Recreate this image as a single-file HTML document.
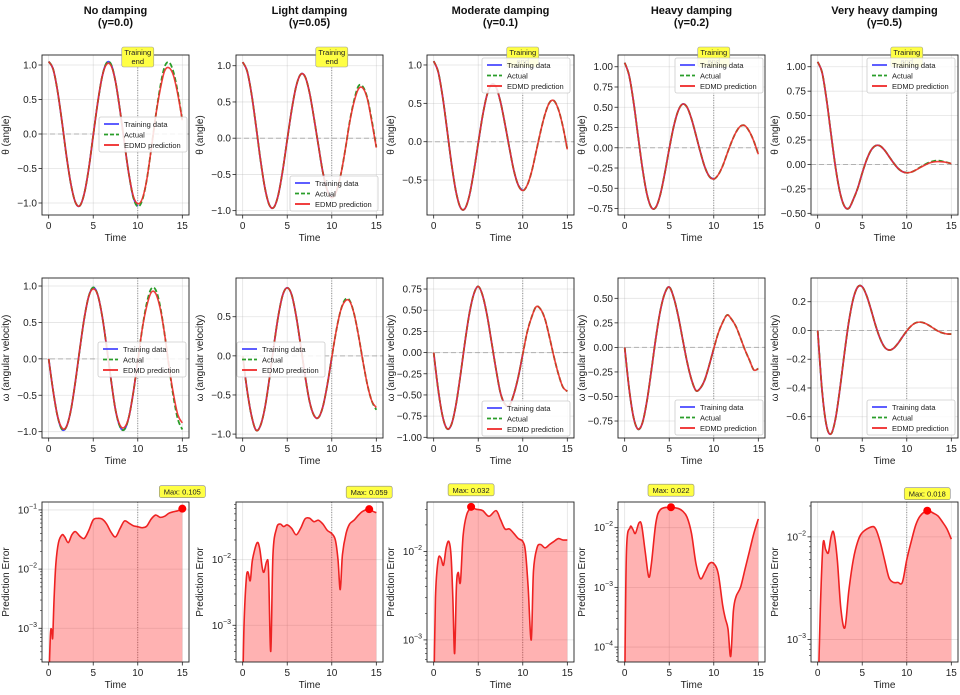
<!DOCTYPE html>
<html><head><meta charset="utf-8">
<style>
html,body{margin:0;padding:0;background:#fff;}
svg{display:block;font-family:"Liberation Sans","DejaVu Sans",sans-serif;}
</style></head>
<body>
<svg id="fig" width="960" height="695" viewBox="0 0 960 695" xmlns="http://www.w3.org/2000/svg"></svg>
<script>
const timeSteps=[0,0.5,1,1.5,2,2.5,3,3.5,4,4.5,5,5.5,6,6.5,7,7.5,8,8.5,9,9.5,10,10.5,11,11.5,12,12.5,13,13.5,14,14.5,15];
const dampingTitles=["No damping","Light damping","Moderate damping","Heavy damping","Very heavy damping"];
const gammaLabels=["(γ=0.0)","(γ=0.05)","(γ=0.1)","(γ=0.2)","(γ=0.5)"];
const theta0Actual=[1.05,.94,.62,.17,-.32,-.73,-.99,-1.04,-.86,-.50,-.02,.45,.83,1.03,1.01,.76,.35,-.13,-.58,-.92,-1.05,-.96,-.67,-.23,.25,.67,.97,1.04,.90,.60,.2];
const theta0Pred=[1.05,.94,.62,.17,-.32,-.73,-.99,-1.04,-.86,-.50,-.02,.45,.83,1.01,.99,.76,.35,-.13,-.58,-.90,-1.01,-.94,-.67,-.23,.25,.63,.91,.96,.85,.57,.2];
const omega0Actual=[0,-.44,-.79,-.97,-.93,-.70,-.31,.14,.56,.86,.98,.88,.59,.17,-.29,-.70,-.93,-.97,-.80,-.46,-.03,.41,.76,.96,.95,.73,.35,-.10,-.52,-.83,-.97];
const omega0Pred=[0,-.44,-.79,-.95,-.93,-.70,-.31,.14,.56,.86,.96,.88,.59,.17,-.29,-.70,-.91,-.94,-.80,-.46,-.03,.41,.72,.91,.90,.70,.35,-.10,-.48,-.77,-.88];
const theta1Actual=[1.05,.925,.605,.165,-.30,-.69,-.924,-.954,-.78,-.44,-.02,.39,.715,.88,.85,.63,.28,-.10,-.47,-.72,-.82,-.74,-.51,-.17,.22,.52,.72,.71,.55,.24,-.12];
const theta1Pred=[1.05,.925,.605,.165,-.30,-.69,-.924,-.954,-.78,-.44,-.02,.39,.715,.88,.85,.63,.28,-.10,-.47,-.72,-.82,-.74,-.51,-.17,.21,.50,.68,.69,.54,.22,-.13];
const omega1Actual=[0,-.44,-.77,-.95,-.89,-.66,-.29,.13,.51,.78,.87,.78,.51,.14,-.25,-.58,-.76,-.79,-.65,-.37,-.02,.32,.58,.72,.71,.54,.26,-.07,-.37,-.58,-.69];
const omega1Pred=[0,-.44,-.77,-.95,-.89,-.66,-.29,.13,.51,.78,.87,.78,.51,.14,-.25,-.58,-.76,-.79,-.65,-.37,-.02,.32,.58,.70,.70,.54,.26,-.07,-.37,-.58,-.66];
const theta2Actual=[1.05,.913,.59,.159,-.285,-.648,-.857,-.873,-.705,-.394,-.018,.343,.615,.746,.711,.519,.232,-.082,-.375,-.568,-.637,-.566,-.388,-.13,.133,.36,.51,.534,.42,.2,-.1];
const omega2Actual=[0,-.432,-.751,-.898,-.846,-.617,-.27,.115,.457,.689,.78,.671,.436,.12,-.2,-.478,-.609,-.625,-.49,-.285,-.018,.244,.42,.541,.512,.393,.181,-.05,-.253,-.406,-.458];
const theta3Actual=[1.05,.891,.562,.147,-.258,-.573,-.738,-.734,-.577,-.315,-.014,.261,.455,.539,.501,.357,.156,-.054,-.239,-.354,-.386,-.334,-.224,-.073,.073,.193,.267,.272,.2,.08,-.08];
const omega3Actual=[0,-.421,-.715,-.833,-.766,-.545,-.232,.097,.374,.55,.615,.509,.323,.087,-.146,-.328,-.44,-.414,-.327,-.178,-.011,.144,.255,.33,.286,.211,.096,-.025,-.128,-.23,-.216];
const theta4Actual=[1.05,.939,.661,.31,-.027,-.285,-.427,-.448,-.357,-.241,-.088,.049,.147,.192,.19,.147,.083,.018,-.038,-.073,-.085,-.078,-.057,-.029,-.002,.021,.034,.04,.032,.022,.009];
const theta4Pred=[1.05,.939,.661,.31,-.027,-.285,-.427,-.448,-.357,-.241,-.088,.049,.147,.192,.19,.147,.083,.018,-.038,-.073,-.085,-.078,-.057,-.032,-.008,.014,.026,.03,.027,.02,.009];
const omega4Actual=[0,-.423,-.665,-.719,-.614,-.405,-.16,.062,.222,.303,.304,.241,.142,.035,-.055,-.115,-.136,-.125,-.091,-.046,-.003,.032,.053,.058,.051,.035,.015,-.004,-.017,-.024,-.025];
const err0T=[0,0.2,0.35,0.45,0.6,0.8,1.1,1.5,1.8,2.2,2.6,3,3.5,4,4.5,5,5.5,6,6.5,7,7.5,8,8.5,9,9.5,10,10.5,11,11.5,12,12.5,13,13.5,14,14.5,15];
const err0V=[0.0001,0.0008,0.0009,0.0007,0.003,0.012,0.028,0.038,0.035,0.028,0.038,0.043,0.036,0.033,0.045,0.068,0.072,0.07,0.058,0.042,0.035,0.048,0.065,0.06,0.054,0.052,0.05,0.053,0.07,0.082,0.075,0.078,0.088,0.093,0.097,0.105];
const err1T=[0,0.15,0.4,0.6,0.85,1.1,1.6,1.9,2.2,2.4,2.7,2.9,3.15,3.4,3.8,4.2,4.6,5,5.5,6,6.5,7,7.5,8,8.5,9,9.5,10,10.4,10.7,10.95,11.2,11.6,12,12.5,13,13.5,14.2,14.6,15];
const err1V=[0.0001,0.001,0.005,0.0065,0.0048,0.01,0.018,0.015,0.0075,0.0065,0.0095,0.007,0.0004,0.012,0.03,0.035,0.032,0.034,0.03,0.024,0.03,0.042,0.043,0.038,0.04,0.035,0.028,0.025,0.02,0.01,0.0035,0.012,0.025,0.035,0.04,0.048,0.055,0.059,0.055,0.052];
const err2T=[0,0.2,0.5,0.8,1.1,1.4,1.7,1.95,2.15,2.35,2.55,2.75,3,3.3,3.7,4.2,4.8,5.5,6.2,7,7.5,8,8.5,9,9.5,10,10.3,10.6,10.95,11.2,11.6,12,12.5,13,13.5,14,14.5,15];
const err2V=[0.0001,0.003,0.008,0.0085,0.007,0.011,0.013,0.009,0.003,0.0007,0.004,0.0058,0.0045,0.015,0.026,0.031,0.03,0.029,0.025,0.029,0.023,0.018,0.018,0.016,0.014,0.013,0.01,0.004,0.001,0.006,0.011,0.012,0.011,0.012,0.013,0.014,0.0135,0.0135];
const err3T=[0,0.2,0.6,0.9,1.2,1.6,1.9,2.3,2.7,3,3.5,4,5,6,6.5,7,7.5,8,8.5,9,9.5,10,10.5,11,11.3,11.6,11.9,12.2,12.5,13,13.5,14,14.5,15];
const err3V=[0.00001,0.004,0.01,0.0095,0.008,0.012,0.011,0.004,0.0015,0.0025,0.012,0.02,0.022,0.021,0.019,0.015,0.008,0.0025,0.0014,0.0018,0.0025,0.0025,0.0017,0.0005,0.0003,0.0002,0.00007,0.0004,0.0007,0.001,0.002,0.004,0.008,0.014];
const err4T=[0,0.3,0.6,0.9,1.2,1.5,1.8,2.2,2.6,3.05,3.5,4,4.5,5,6,6.5,7,7.5,8,8.5,9,9.5,10,10.5,11,11.5,12.3,13,13.5,14,14.5,15];
const err4V=[0.0001,0.002,0.0085,0.0075,0.007,0.01,0.011,0.006,0.002,0.0013,0.003,0.006,0.009,0.011,0.0125,0.012,0.009,0.006,0.004,0.0036,0.0036,0.0036,0.006,0.009,0.013,0.016,0.018,0.017,0.016,0.014,0.012,0.0095];
const maxErrT=[15,14.2,4.2,5.2,12.3];
const maxErrV=[0.105,0.059,0.032,0.022,0.018];
const maxErrLabels=["Max: 0.105","Max: 0.059","Max: 0.032","Max: 0.022","Max: 0.018"];
const xTicks=[0,5,10,15];

const NS="http://www.w3.org/2000/svg";
const svg=document.getElementById('fig');
function el(tag,attrs,parent,text){const e=document.createElementNS(NS,tag);for(const k in attrs)e.setAttribute(k,attrs[k]);if(text!==undefined)e.textContent=text;(parent||svg).appendChild(e);return e;}
function smooth(pts){if(!pts.length)return"";let d="M"+pts[0][0].toFixed(2)+","+pts[0][1].toFixed(2);for(let i=0;i<pts.length-1;i++){const p0=pts[i-1]||pts[i],p1=pts[i],p2=pts[i+1],p3=pts[i+2]||p2;const c1=[p1[0]+(p2[0]-p0[0])/6,p1[1]+(p2[1]-p0[1])/6],c2=[p2[0]-(p3[0]-p1[0])/6,p2[1]-(p3[1]-p1[1])/6];d+="C"+c1[0].toFixed(2)+","+c1[1].toFixed(2)+" "+c2[0].toFixed(2)+","+c2[1].toFixed(2)+" "+p2[0].toFixed(2)+","+p2[1].toFixed(2);}return d;}
const colLeft=[42,236,427,618,811];const W=147;
const rowTop=[55,278,502];const H=160;
const thetaData=[[theta0Actual,theta0Pred],[theta1Actual,theta1Pred],[theta2Actual,theta2Actual],[theta3Actual,theta3Actual],[theta4Actual,theta4Pred]];
const omegaData=[[omega0Actual,omega0Pred],[omega1Actual,omega1Pred],[omega2Actual,omega2Actual],[omega3Actual,omega3Actual],[omega4Actual,omega4Actual]];
const errData=[[err0T,err0V],[err1T,err1V],[err2T,err2V],[err3T,err3V],[err4T,err4V]];
const yRange1=[[-1.174,1.145],[-1.06,1.148],[-0.955,1.13],[-0.83,1.145],[-0.517,1.12]];
const yRange2=[[-1.087,1.11],[-1.05,0.995],[-1.008,0.88],[-0.923,0.707],[-0.748,0.365]];
const yRange3=[[-3.57,-0.866],[-3.56,-1.12],[-3.25,-1.44],[-4.25,-1.57],[-3.22,-1.66]];
const yTicks1=[[-1,-.5,0,.5,1],[-1,-.5,0,.5,1],[-.5,0,.5,1],[-.75,-.5,-.25,0,.25,.5,.75,1],[-.5,-.25,0,.25,.5,.75,1]];
const yTicks2=[[-1,-.5,0,.5,1],[-1,-.5,0,.5],[-1,-.75,-.5,-.25,0,.25,.5,.75],[-.75,-.5,-.25,0,.25,.5],[-.6,-.4,-.2,0,.2]];
const yTicks3=[[-3,-2,-1],[-3,-2],[-3,-2],[-4,-3,-2],[-3,-2]];
const decimals1=[1,1,1,2,2],decimals2=[1,1,2,2,1];
const legendPos1=[[99,117],[290,176],[482,58],[675,58],[867,58]];
const legendPos2=[[98,342],[237,342],[482,401],[675,400],[867,400]];
function fmt(v,d){return (v<0?"−":"")+Math.abs(v).toFixed(d);}

function makeAxes(c,r,ymin,ymax,isLog){
  const L=colLeft[c],T=rowTop[r];
  const g=el('g',{});
  
  
  const xs=t=>L+(t+0.75)/16.5*W;
  const ys=v=>T+H-(v-ymin)/(ymax-ymin)*H;
  el('defs',{},g);
  const cp=el('clipPath',{id:'cp'+r+c},g);el('rect',{x:L,y:T,width:W,height:H},cp);
  // grid
  xTicks.forEach(t=>el('line',{x1:xs(t),x2:xs(t),y1:T,y2:T+H,stroke:'#b0b0b0','stroke-opacity':0.35,'stroke-width':0.8},g));
  return {g,xs,ys,L,T};
}
function drawFrameAndTicks(A,c,r,ticks,labels,isLog,ymin,ymax){
  const {g,xs,ys,L,T}=A;
  el('rect',{x:L,y:T,width:W,height:H,fill:'none',stroke:'#222','stroke-width':0.9},g);
  xTicks.forEach(t=>{el('line',{x1:xs(t),x2:xs(t),y1:T+H,y2:T+H+3.5,stroke:'#222','stroke-width':0.8},g);
    const tx=el('text',{x:xs(t),y:T+H+14,'font-size':10,'text-anchor':'middle',fill:'#222'},g,String(t));
    });
  ticks.forEach((v,i)=>{const y=ys(v);el('line',{x1:L-3.5,x2:L,y1:y,y2:y,stroke:'#222','stroke-width':0.8},g);
    if(isLog){const tx=el('text',{x:L-5,y:y+3.5,'font-size':10,'text-anchor':'end',fill:'#222'},g);
      el('tspan',{},tx,'10');el('tspan',{dy:-5,'font-size':7},tx,'−'+Math.abs(v));
      }
    else{const tx=el('text',{x:L-5,y:y+3.5,'font-size':10,'text-anchor':'end',fill:'#222'},g,labels[i]);
      }});
  if(isLog){for(let d=Math.floor(ymin);d<ymax;d++){for(let m=2;m<10;m++){const lv=d+Math.log10(m);if(lv>ymin&&lv<ymax){const y=ys(lv);el('line',{x1:L-2,x2:L,y1:y,y2:y,stroke:'#222','stroke-width':0.6},g);}}}}
  const xl=el('text',{x:L+W/2,y:T+H+26,'font-size':10,'text-anchor':'middle',fill:'#222'},g,'Time');
  
  const yt=['θ (angle)','ω (angular velocity)','Prediction Error'][r];
  const yl=el('text',{x:0,y:0,'font-size':10,'text-anchor':'middle',fill:'#222',transform:`translate(${L-33},${T+H/2}) rotate(-90)`},g,yt);
  
}
function legend(g,x,y){
  const lg=el('g',{},g);
  
  el('rect',{x:x,y:y,width:88,height:35,rx:2,fill:'#fff','fill-opacity':0.85,stroke:'#ccc','stroke-width':0.8},lg);
  const items=[['Training data','#4c4cff','none'],['Actual','#2a9d2a','4,2'],['EDMD prediction','#ee2a2a','none']];
  items.forEach((it,i)=>{const yy=y+7+i*10.5;
    const ln=el('line',{x1:x+5,x2:x+20,y1:yy,y2:yy,stroke:it[1],'stroke-width':1.8,'stroke-dasharray':it[2]},lg);
    
    const t=el('text',{x:x+25,y:yy+3,'font-size':7.5,fill:'#222'},lg,it[0]);
    });
}
function timeSeries(r,c,data,range,ticks,dec,lpos){
  const [ymin,ymax]=range;
  const A=makeAxes(c,r,ymin,ymax,false);const {g,xs,ys,L,T}=A;
  ticks.forEach(v=>el('line',{x1:L,x2:L+W,y1:ys(v),y2:ys(v),stroke:'#b0b0b0','stroke-opacity':0.35,'stroke-width':0.8},g));
  el('line',{x1:L,x2:L+W,y1:ys(0),y2:ys(0),stroke:'#999','stroke-width':1,'stroke-dasharray':'5,3','stroke-opacity':0.7},g);
  el('line',{x1:xs(10),x2:xs(10),y1:T,y2:T+H,stroke:'#777','stroke-width':0.8,'stroke-dasharray':'1,1.5'},g);
  const [act,pred]=data;
  const trainPts=[],actPts=[],predPts=[];
  timeSteps.forEach((t,i)=>{if(t<=10)trainPts.push([xs(t),ys(act[i])]);actPts.push([xs(t),ys(act[i])]);predPts.push([xs(t),ys(pred[i])]);});
  const pg=el('g',{'clip-path':`url(#cp${r}${c})`},g);
  const p1=el('path',{d:smooth(trainPts),fill:'none',stroke:'#4c4cff','stroke-width':1.8},pg);
  
  const p2=el('path',{d:smooth(actPts),fill:'none',stroke:'#2a9d2a','stroke-width':1.8,'stroke-dasharray':'5,2.5'},pg);
  
  const p3=el('path',{d:smooth(predPts),fill:'none',stroke:'#ee2a2a','stroke-width':1.6,'stroke-opacity':0.9},pg);
  
  drawFrameAndTicks(A,c,r,ticks,ticks.map(v=>fmt(v,dec)),false);
  if(r===0){const bx=el('g',{},g);
    el('rect',{x:xs(10)-16,y:47,width:32,height:20,rx:2,fill:'#ffff44',stroke:'#999','stroke-width':0.6},bx);
    el('text',{x:xs(10),y:55,'font-size':7.5,'text-anchor':'middle',fill:'#222'},bx,'Training');
    el('text',{x:xs(10),y:64,'font-size':7.5,'text-anchor':'middle',fill:'#222'},bx,'end');}
  legend(g,lpos[0],lpos[1]);
  return A;
}
for(let c=0;c<5;c++){
  const t1=el('text',{x:colLeft[c]+W/2,y:14,'font-size':11,'font-weight':'bold','text-anchor':'middle',fill:'#111'},svg,dampingTitles[c]);
  
  const t2=el('text',{x:colLeft[c]+W/2,y:26,'font-size':11,'font-weight':'bold','text-anchor':'middle',fill:'#111'},svg,gammaLabels[c]);
  
  timeSeries(0,c,thetaData[c],yRange1[c],yTicks1[c],decimals1[c],legendPos1[c]);
  timeSeries(1,c,omegaData[c],yRange2[c],yTicks2[c],decimals2[c],legendPos2[c]);
  // error panel
  const [ymin,ymax]=yRange3[c];
  const A=makeAxes(c,2,ymin,ymax,true);const {g,xs,ys,L,T}=A;
  yTicks3[c].forEach(v=>el('line',{x1:L,x2:L+W,y1:ys(v),y2:ys(v),stroke:'#b0b0b0','stroke-opacity':0.35,'stroke-width':0.8},g));
  el('line',{x1:xs(10),x2:xs(10),y1:T,y2:T+H,stroke:'#777','stroke-width':0.8,'stroke-dasharray':'1,1.5'},g);
  const [et,ev]=errData[c];
  const pts=et.map((t,i)=>[xs(t),ys(Math.max(Math.log10(ev[i]),ymin-0.5))]);
  const pg=el('g',{'clip-path':`url(#cp2${c})`},g);
  const line=smooth(pts);
  const area=el('path',{d:line+`L${pts[pts.length-1][0]},${T+H+5}L${pts[0][0]},${T+H+5}Z`,fill:'rgba(255,0,0,0.3)',stroke:'none'},pg);
  
  const el2=el('path',{d:line,fill:'none',stroke:'#ee2222','stroke-width':1.6},pg);
  
  drawFrameAndTicks(A,c,2,yTicks3[c],[],true,ymin,ymax);
  const mx=xs(maxErrT[c]),my=ys(Math.log10(maxErrV[c]));
  const dot=el('circle',{cx:mx,cy:my,r:4,fill:'#ff0000'},g);
  
  const ag=el('g',{},g);
  el('rect',{x:mx-23,y:my-23,width:46,height:12,rx:2,fill:'#ffff44',stroke:'#888','stroke-width':0.6},ag);
  el('text',{x:mx,y:my-14,'font-size':7.5,'text-anchor':'middle',fill:'#222'},ag,maxErrLabels[c]);
}
</script>
</body></html>
